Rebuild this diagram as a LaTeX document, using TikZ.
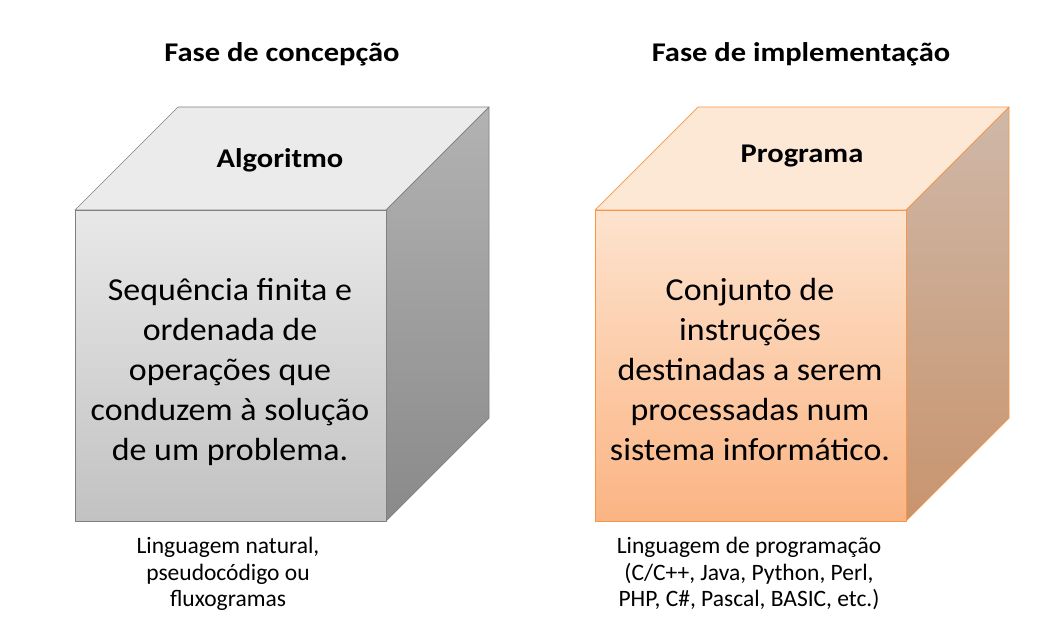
\documentclass[tikz,border=0pt]{standalone}
\usepackage{fontspec}
\setmainfont{Carlito}
\newfontfamily\widebold[FakeStretch=1.13]{Carlito}
\newfontfamily\widebody[FakeStretch=1.06]{Carlito}
\begin{document}
\begin{tikzpicture}[x=1pt,y=-1pt,
  graytop/.style={fill=black!8, draw=black!50, line width=0.7pt, line join=round},
  grayfront/.style={top color=black!9, bottom color=black!24, draw=black!50, line width=0.7pt, line join=round},
  grayside/.style={top color=black!30, bottom color=black!46, draw=black!50, line width=0.7pt, line join=round},
  orgtop/.style={fill=orgTop, draw=orgLine, line width=0.7pt, line join=round},
  orgfront/.style={top color=orgFrontA, bottom color=orgFrontB, draw=orgLine, line width=0.7pt, line join=round},
  orgside/.style={top color=orgSideA, bottom color=orgSideB, draw=orgLine, line width=0.7pt, line join=round},
  phase/.style={font=\widebold\bfseries\fontsize{27}{32}\selectfont, anchor=base, inner sep=0pt},
  cubetitle/.style={font=\widebold\bfseries\fontsize{27}{32}\selectfont, anchor=base, inner sep=0pt},
  body/.style={font=\widebody\fontsize{32}{40}\selectfont, align=center, anchor=north, inner sep=0pt},
  note/.style={font=\fontsize{23.5}{26.5}\selectfont, align=center, anchor=north, inner sep=0pt}
]
\definecolor{orgTop}{HTML}{FDE7D5}
\definecolor{orgFrontA}{HTML}{FDE3CE}
\definecolor{orgFrontB}{HTML}{FBB483}
\definecolor{orgSideA}{HTML}{CFB8A8}
\definecolor{orgSideB}{HTML}{C8946E}
\definecolor{orgLine}{HTML}{F79646}
\useasboundingbox (0,0) rectangle (1057,642);
\fill[white] (0,0) rectangle (1057,642);

% left cube
\path[graytop] (75,210) -- (178,107) -- (489,107) -- (386,210) -- cycle;
\path[grayside] (386,210) -- (489,107) -- (489,418) -- (386,521) -- cycle;
\path[grayfront] (75,210) rectangle (386,521);

% right cube
\path[orgtop] (595,210) -- (698,107) -- (1009,107) -- (906,210) -- cycle;
\path[orgside] (906,210) -- (1009,107) -- (1009,418) -- (906,521) -- cycle;
\path[orgfront] (595,210) rectangle (906,521);

\node[phase] (p1) at (282,62) {Fase de concepção};
\node[phase] (p2) at (801,62) {Fase de implementação};

\node[cubetitle] (t1) at (280,167) {Algoritmo};
\node[cubetitle] (t2) at (802,162) {Programa};

\node[body] (b1) at (230,272) {\strut Sequência finita e\\ordenada de\\operações que\\conduzem à solução\\de um problema.};
\node[body] (b2) at (750,272) {\strut Conjunto de\\instruções\\destinadas a serem\\processadas num\\sistema informático.};

\node[note] (n1) at (228,535) {\strut Linguagem natural,\\pseudocódigo ou\\fluxogramas};
\node[note] (n2) at (749,535) {\strut Linguagem de programação\\(C/C++, Java, Python, Perl,\\PHP, C\#, Pascal, BASIC, etc.)};
\end{tikzpicture}
\end{document}
